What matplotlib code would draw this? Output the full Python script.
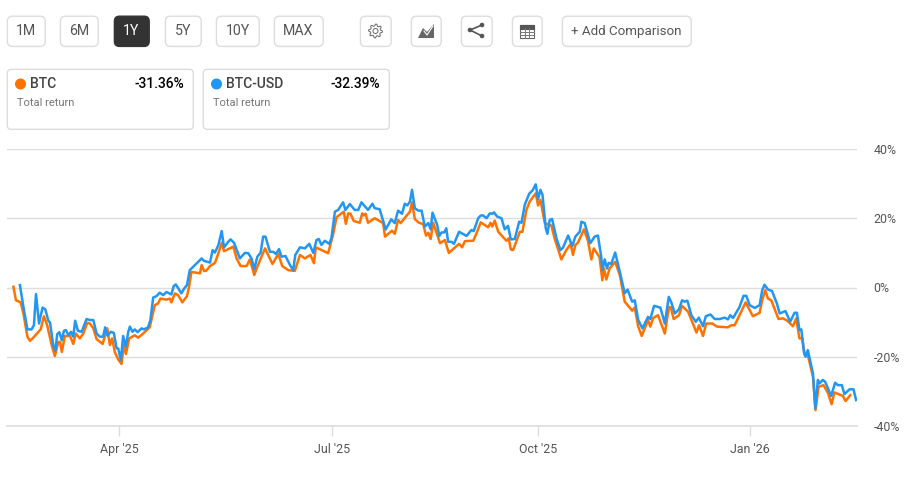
import matplotlib
matplotlib.use("Agg")
import matplotlib.pyplot as plt
import numpy as np
from matplotlib.patches import Circle, FancyBboxPatch, Polygon, Rectangle

# =========================
# DATA
# =========================

# x is days from the start of the chart, y is total return in percent
BTC_DAYS = [
    0.6, 1.7, 3.7, 4.9, 6.6, 7.7, 9.1, 12.3, 13.7, 15.1, 17, 18.4, 19.9, 20.6, 21.4, 22.7, 24.9, 26.3, 27.4, 29.1,
    30.6, 32.3, 33.4, 34.9, 36.3, 38.9, 40, 40.9, 42, 43, 44.1, 45.6, 47, 48, 48.9, 50.3, 52.7, 54.1, 56.3, 59.1,
    61.3, 62.7, 63.7, 66.3, 67.7, 68.4, 69.9, 71.3, 73.1, 75.1, 76, 77,
    80.7, 81.4, 82.4, 83.3, 85, 87.1, 88.6, 90, 91, 95, 96.4, 98.1, 100.7, 102.1, 104, 105.3, 108.6, 111.8, 114.3, 116,
    118.6, 121.4, 123.6, 125.7, 128.1, 129.6, 130.4, 135.7, 137.8, 139.3, 142.4, 143.3, 144.3, 145.3, 146.7, 149.3,
    150.3, 151, 151.8, 152.8, 155.7, 159.3, 160.1, 163.1, 164.3, 165.7, 166.8,
    170.8, 171.7, 172.9, 174.4, 176.5, 177.7, 178.7, 179.7, 180.8, 183.7, 185.8, 187.5, 191.9, 193.2, 194.4, 198, 199.4,
    201.2, 204.4, 205.4, 206.1, 207.2, 208.7, 212.2, 213.2, 214.1, 215.1, 218, 219.1, 220.8, 222.2, 224.8, 225.8, 226.8,
    228.7, 231.5, 232.9, 235.8, 237.9, 239.8, 240.8, 241.8, 242.9, 245.5, 247.2, 248.7, 249.7, 252.2, 253.4, 254.1,
    255.1, 256.5, 258.9,
    260.9, 263, 266.2, 267.3, 268.8, 270.3, 273, 274, 275.2, 277.3, 280.2, 282, 282.8, 284, 286.3, 287.6, 290.2, 293.8,
    294.9, 296.6, 298, 300.6, 302.6, 307.3, 308.8, 310.2, 314.9, 318, 320.9, 322, 323.3, 324.5, 325.9, 329, 330.9,
    332.8, 335.2, 336.6, 338, 339.2, 340.3, 341.6, 343.8, 344.9, 346.2, 348.3, 350.2, 351.8, 353, 356.6, 357.8, 359.8,
]
BTC_RETURN = [
    0.2, -3.7, -4.3, -7.5, -14.2, -15.4, -14.5, -12.1, -8.3, -10.9, -16.6, -19.8, -15.7, -15.7, -18.6, -14, -14, -16.3, -13.3, -14.7,
    -13.3, -10.2, -10.4, -11.8, -14.9, -16.3, -13.8, -11.8, -16.6, -14.7, -18.6, -20.8, -22.1, -16.6, -19.2, -14.7, -13.8, -14.5, -13.3, -11.5,
    -5.1, -4.6, -3.2, -3.5, -3.2, -4.3, -1.7, -2.2, -4.3, -2.5, 0.2, 4.5,
    4.1, 6.5, 4.8, 4.8, 6.2, 7.1, 9.9, 12.9, 10.5, 11.8, 8.4, 6.2, 6.2, 8.1, 3.6, 6, 11.3, 6.8, 9.7, 6.2,
    5, 4.8, 9.4, 8.4, 9.4, 7, 11.6, 9.9, 15.2, 20.3, 21.9, 18.4, 21.4, 21.3, 19.2, 18.7,
    21.4, 20.8, 21.3, 18.7, 20, 18.6, 14.7, 16.4, 15.5, 19.5, 18.6,
    21.9, 24.6, 19.8, 18.8, 18.3, 15, 15.8, 14, 18.7, 12.8, 13.7, 10, 12.6, 11.6, 13.4, 13.5, 15.7,
    18.8, 17.4, 18.7, 17.6, 19.3, 16.1, 13.5, 14.2, 11, 10.8, 16.1, 16.1, 22.4, 24.8, 27.2, 23.7, 25.3,
    18.6, 17.9, 14.2, 8.1, 10.8, 12.6, 9.4, 12.3, 12.9, 16.8, 13.5, 8.1, 11.3, 8.7, 2.1, 5.5,
    2.3, 5.5, 7.4,
    3.6, -4.1, -6.7, -5.8, -11.3, -14, -9.4, -11.3, -8.8, -8, -13.3, -5.6, -5.8, -9.1, -8, -5.3, -7, -13,
    -10.9, -14, -10.4, -10.4, -11.3, -11.5, -10.9, -10.9, -4.3, -8.3, -7.3, -3.7, -0.8, -3.2, -3.7, -9.1, -8.9,
    -9.6, -11.2, -8.9, -14.7, -14.7, -19.5, -19.5, -25.8, -35.4, -28.7, -28.2, -30.4, -33.7, -30.3, -31.3, -32.8, -31.1,
]

USD_DAYS = [
    3.4, 4.9, 6.6, 8.4, 9.4, 10.3, 11.6, 13.1, 14.3, 15.6, 16.3, 17.7, 18.6, 19.4, 20.3, 21.4, 22.3, 23.1,
    24.3, 25.3, 26.3, 27.1, 28.3, 29.9, 32, 33.4, 34.9, 36.3, 37.7, 39.1, 40, 41, 42.4, 43.7, 44.9, 45.6, 46.7, 47.7,
    48.9, 49.9, 50.6, 51.7, 52.7, 53.9, 55.6, 56.6, 58.4, 59.4, 60.6, 62, 63.4, 64.9, 66.3, 68.4, 69.4, 70.3, 72.7,
    73.9, 75.1, 76.3,
    80.7, 81.4, 82.4, 85, 86.1, 87.1, 88.6, 90, 91, 92.8, 93.8, 95.3, 97.8, 100, 101.4, 102.8, 104, 105.3, 106.7, 107.8,
    108.8, 110.7, 112.1, 113.3, 114.6, 115.7, 117.4, 119.3, 120.7, 121.6, 123.6, 125.7, 127.6, 129.3, 130.7, 131.7,
    132.8, 134.3, 136.1, 137.1, 138.6, 140, 142.1, 143.1, 145, 147.1, 148.6, 150, 152.8, 154.7, 155.7, 157.8, 160.4,
    162.8, 164.3, 165.7, 167.4, 168.6, 169.7,
    170.8, 171.7, 172.9, 174.4, 175.8, 177.2, 178.7, 179.7, 180.5, 182.5, 183.4, 184.4, 185.5, 186.4, 187.2, 188.7,
    189.7, 191.9, 192.9, 195.1, 197.2, 198.2, 200.1, 201.2, 202.2, 203.7, 205.1, 206.2, 206.9, 208.2, 210.1, 211.5,
    212.9, 214.1, 215.8, 217.7, 218.7, 220.1, 222, 223.4, 224.8, 225.8, 226.8, 227.7, 229.1, 229.8, 230.8, 231.8,
    233.7, 235.4, 236.5, 238.7, 240.5, 241.8, 243.7, 244.4, 245.8, 248.2, 250.1, 251.5, 252.9, 253.4, 254.4, 255.4,
    256.1, 257.2, 258.9,
    260.9, 263, 264.2, 266.2, 267.3, 268.8, 270.6, 273, 274, 275.6, 278.3, 280.2, 281.9, 283, 284.5, 286.3, 287.6,
    288.8, 289.9, 291.6, 293.5, 294.8, 296.6, 297.8, 299.8, 301.6, 303.8, 305.9, 307.3, 308.3, 309.5, 312.3, 314,
    315.2, 316.6, 318.8, 320.9, 322, 323, 324.5, 326.2, 328.3, 329.5, 332, 334, 335.9, 336.9, 338, 338.8, 339.9,
    340.6, 341.6, 343.8, 344.8, 345.9, 346.6, 348, 349, 351.6, 353.3, 354.5, 356.2, 357.3, 359.5, 361.2, 362.3,
]
USD_RETURN = [
    0.7, -5.6, -12.1, -12.1, -10.9, -1.9, -10.4, -5.8, -6.3, -9.6, -10.1, -16.6, -18.3, -13.5, -12.9, -15.2, -12.5, -12.3,
    -13.8, -12.8, -14.2, -9.6, -12.5, -12.8, -9.1, -9.4, -9.4, -13.3, -14.2, -14.2, -11.5, -13.9, -12.8, -13.1, -17.6, -17.6, -21, -14,
    -17.1, -12.8, -11.3, -12.8, -12.1, -12.9, -11.8, -12.1, -11.5, -9.4, -2.9, -2.5, -1.5, -2.2, -1.3, -2, 0.4, 0.9, -1.7,
    -0.3, 0.7, 5,
    7.9, 8.4, 7.7, 7.2, 10.8, 10.1, 12.3, 16.3, 11.6, 13.2, 13.9, 12.9, 8.4, 10, 9.9, 8.4, 5.3, 8.9, 10, 14.7,
    14.7, 10.3, 10.3, 9.7, 11.1, 8.9, 9.1, 6.5, 5, 9.4, 11.6, 11.3, 12.6, 10, 13.7, 14,
    12.3, 13.5, 12.6, 14.2, 21.9, 22.4, 24.6, 22.4, 24.1, 22.4, 22.4, 24.6, 22.4, 24.2, 22.9, 22.6, 16.8,
    19.7, 18.6, 22.2, 21.3, 24.2, 23.7,
    24.8, 28.2, 22.9, 22.2, 22.2, 17.6, 18.6, 16.8, 21.6, 18.1, 14.9, 15.9, 15.9, 17.1, 13.2, 13.2,
    12.6, 16.1, 15.7, 14.9, 16.6, 16.3, 20, 20.8, 20.8, 20, 21.4, 21.3, 21.7, 20.5, 20, 16.8,
    17.8, 13.9, 14, 19, 18.7, 23.9, 27.1, 28, 29.8, 25.5, 28.2, 26.8, 17.1, 15.5, 19.5, 19.8,
    14.2, 10.8, 11.5, 15, 12, 14.7, 16.1, 19, 18.6, 12.8, 14.7, 15, 8.9, 5, 8.1, 5.5,
    7.1, 6.8, 10.1,
    4.5, -1.7, -0.6, -4.1, -3.7, -9.4, -11.8, -8.5, -9.1, -5.3, -5.8, -10.4, -2.7, -4.3, -7.5, -6.3, -3.7,
    -4.1, -3.8, -8, -9.9, -8.7, -11.2, -8.3, -7.8, -9.1, -9.1, -8.7, -9.2, -8, -8.8, -5.6, -2.4,
    -2.4, -5.1, -5.9, -5.1, -0.8, 0.8, -0.6, -1, -4.6, -7.5, -6.8, -9.9, -7.3, -7.3, -12.3, -12.1, -18.6,
    -20, -18.1, -24.8, -34.9, -26.7, -27.7, -26.7, -27.2, -31.3, -27.5, -28.2, -28.2, -30.8, -29.4, -29.4, -32.5,
]

X_TICKS = [46.0, 137.2, 225.9, 316.6]
X_LABELS = ["Apr '25", "Jul '25", "Oct '25", "Jan '26"]
Y_TICKS = [-40, -20, 0, 20, 40]
Y_LABELS = ["-40%", "-20%", "0%", "20%", "40%"]

RANGE_LABELS = ["1M", "6M", "1Y", "5Y", "10Y", "MAX"]
CARD_NAMES = ["BTC", "BTC-USD"]
CARD_VALUES = ["-31.36%", "-32.39%"]

ORANGE = "#ff7200"
BLUE = "#2196f3"
BORDER = "#dddddd"
FONT = "Roboto"


def button(page, x0, x1, y0=16, y1=46, face="white", edge=BORDER):
    page.add_patch(FancyBboxPatch((x0 + 3.4, y0 + 3.2), x1 - x0 - 6.2, y1 - y0 - 5.8,
                                  boxstyle="round,pad=3,rounding_size=5",
                                  fc=face, ec=edge, lw=1))


def draw_gear(page, cx, cy):
    # 8 teeth, two outline points per tooth and two per gap
    angles = np.radians(np.arange(0, 360, 11.25))
    radii = np.tile([6.9, 6.9, 5.1, 5.1], 8)
    outline = np.column_stack([cx + radii * np.cos(angles), cy + radii * np.sin(angles)])
    page.add_patch(Polygon(outline, fc="none", ec="#666666", lw=0.7))
    page.add_patch(Circle((cx, cy), 2.5, fc="none", ec="#666666", lw=0.7))


def draw_icons(page):
    # area chart icon
    page.add_patch(Polygon([(418, 38), (423, 28), (427, 32), (434, 24), (434, 38)], fc="#666666", ec="none"))
    page.plot([424, 427, 433], [31, 35, 26], color="white", lw=0.8)
    # share icon
    page.plot([482, 470, 482], [25, 30, 36], color="#555555", lw=1.2)
    for px, py in [(482, 25), (470, 30), (482, 36)]:
        page.add_patch(Circle((px, py), 2.3, fc="#555555", ec="none"))
    # table icon
    page.add_patch(Rectangle((520, 25), 14, 13, fc="white", ec="#666666", lw=0.8))
    page.add_patch(Rectangle((520, 25), 14, 3.5, fc="#555555", ec="#555555", lw=0.8))
    for gx in [524.7, 529.3]:
        page.plot([gx, gx], [28, 38], color="#777777", lw=0.7)
    for gy in [31.5, 34.8]:
        page.plot([520, 534], [gy, gy], color="#777777", lw=0.7)


def draw_header(page):
    spans = [(7, 45), (60, 98), (114, 149), (165, 201), (216, 259), (274, 323)]
    for label, (x0, x1) in zip(RANGE_LABELS, spans):
        active = label == "1Y"
        button(page, x0, x1, face="#333333" if active else "white", edge="#333333" if active else BORDER)
        page.text((x0 + x1) / 2, 30.5, label, ha="center", va="center", fontsize=10.2, family=FONT,
                  color="white" if active else "#555555")

    for x0, x1 in [(360, 391), (411, 441), (461, 492), (512, 542), (562, 691)]:
        button(page, x0, x1)
    draw_gear(page, 375.5, 31)
    draw_icons(page)
    page.text(626.5, 31, "+ Add Comparison", ha="center", va="center", fontsize=9.6, family=FONT, color="#555555")

    # the two summary cards
    for i, (name, value) in enumerate(zip(CARD_NAMES, CARD_VALUES)):
        left = 7 + i * 196
        page.add_patch(FancyBboxPatch((left + 3.3, 72.3), 180, 54, boxstyle="round,pad=3,rounding_size=4",
                                      fc="white", ec=BORDER, lw=1))
        page.add_patch(Circle((left + 13.5, 84), 5.5, fc=[ORANGE, BLUE][i], ec="none"))
        page.text(left + 23, 83.5, name, va="center", fontsize=10, family=FONT, weight="medium", color="#444444")
        page.text(left + 177.5, 83.5, value, ha="right", va="center", fontsize=10, family=FONT, weight="medium",
                  color="black")
        page.text(left + 10, 102.7, "Total return", va="center", fontsize=8, family=FONT, color="#777777")


def main():
    fig = plt.figure(figsize=(9.24, 4.79), dpi=100, facecolor="white")

    # page layer in pixel coordinates for buttons and cards
    page = fig.add_axes([0, 0, 1, 1])
    page.set_xlim(0, 924)
    page.set_ylim(479, 0)
    page.axis("off")
    draw_header(page)

    # chart layer: gridlines run x 7..857, y 149..426 in the picture
    ax = fig.add_axes([7 / 924, (479 - 426) / 479, 850 / 924, 277 / 479])
    ax.patch.set_alpha(0)
    ax.set_xlim(-2.15, 362.7)
    ax.set_ylim(-40, 40)

    ax.plot(BTC_DAYS, BTC_RETURN, color=ORANGE, lw=1.8, solid_joinstyle="round", zorder=3)
    ax.plot(USD_DAYS, USD_RETURN, color=BLUE, lw=1.8, solid_joinstyle="round", zorder=4)

    for side in ["top", "left", "right"]:
        ax.spines[side].set_visible(False)
    ax.spines["bottom"].set_color(BORDER)
    ax.spines["bottom"].set_linewidth(1.2)

    ax.yaxis.tick_right()
    ax.set_yticks(Y_TICKS, Y_LABELS)
    ax.set_xticks(X_TICKS, X_LABELS)
    ax.tick_params(axis="y", length=0, pad=12, labelsize=8.9, labelcolor="#555555")
    ax.tick_params(axis="x", length=7.5, width=1, color=BORDER, pad=5, labelsize=8.9, labelcolor="#555555")
    for label in ax.get_xticklabels() + ax.get_yticklabels():
        label.set_family(FONT)
    ax.grid(axis="y", color=BORDER, lw=1)
    ax.set_axisbelow(True)

    fig.savefig("out.png", dpi=100)


if __name__ == "__main__":
    main()
